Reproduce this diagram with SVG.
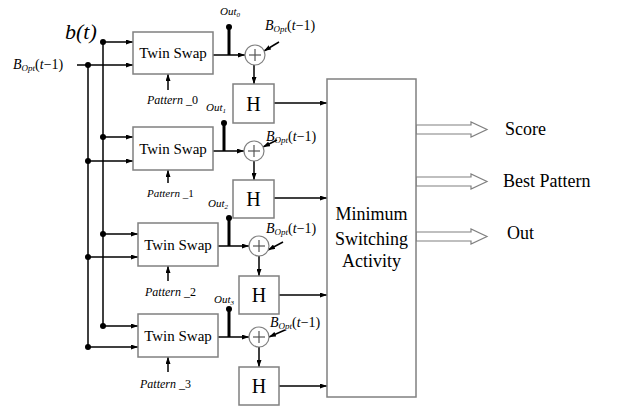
<svg xmlns="http://www.w3.org/2000/svg" width="618" height="414" viewBox="0 0 618 414">
<defs>
<marker id="ah" viewBox="0 0 7 5" refX="7" refY="2.5" markerWidth="7" markerHeight="5" markerUnits="userSpaceOnUse" orient="auto">
<path d="M0,0 L7,2.5 L0,5 z" fill="#000"/>
</marker>
<style>
.ln{stroke:#000;stroke-width:1.5;fill:none}
.ar{stroke:#000;stroke-width:1.5;fill:none;marker-end:url(#ah)}
.stem{stroke:#000;stroke-width:3;fill:none}
.dot{fill:#000}
.box{fill:#fff;stroke:#808080;stroke-width:1.5}
.sum{fill:#fff;stroke:#808080;stroke-width:1.2}
.plus{stroke:#555;stroke-width:1.2}
.hollow{fill:#fff;stroke:#808080;stroke-width:1.2}
.t{font-family:"Liberation Serif","Times New Roman",serif;fill:#000}
.it{font-family:"Liberation Serif","Times New Roman",serif;font-style:italic;fill:#000}
.up{font-style:normal}
</style>
</defs>
<rect width="618" height="414" fill="#fff"/>

<g id="connectors">
<line class="ln" x1="103" y1="42" x2="103" y2="326"/>
<line class="ln" x1="88" y1="65" x2="88" y2="347"/>
<line class="ln" x1="77" y1="65" x2="88" y2="65"/>
<line class="ar" x1="103" y1="42" x2="133" y2="42"/>
<line class="ar" x1="88" y1="65" x2="133" y2="65"/>
<line class="ar" x1="103" y1="137" x2="133" y2="137"/>
<line class="ar" x1="88" y1="161" x2="133" y2="161"/>
<line class="ar" x1="103" y1="234" x2="138" y2="234"/>
<line class="ar" x1="88" y1="257" x2="138" y2="257"/>
<line class="ar" x1="103" y1="326" x2="138" y2="326"/>
<line class="ar" x1="88" y1="347" x2="138" y2="347"/>
<circle class="dot" cx="103" cy="42" r="3"/>
<circle class="dot" cx="88" cy="65" r="3"/>
<circle class="dot" cx="103" cy="137" r="3"/>
<circle class="dot" cx="88" cy="161" r="3"/>
<circle class="dot" cx="103" cy="234" r="3"/>
<circle class="dot" cx="88" cy="257" r="3"/>
<circle class="dot" cx="103" cy="326" r="3"/>
<circle class="dot" cx="88" cy="347" r="3"/>
<line class="ar" x1="168" y1="90" x2="168" y2="74"/>
<line class="ar" x1="168" y1="183" x2="168" y2="170"/>
<line class="ar" x1="168" y1="281" x2="168" y2="266"/>
<line class="ar" x1="168" y1="372" x2="168" y2="357"/>
<line class="ar" x1="213" y1="55" x2="245" y2="55"/>
<line class="ar" x1="213" y1="151" x2="244" y2="151"/>
<line class="ar" x1="218" y1="246" x2="249" y2="246"/>
<line class="ar" x1="218" y1="337" x2="249" y2="337"/>
<line class="stem" x1="229" y1="27" x2="229" y2="55"/>
<line class="stem" x1="224" y1="123" x2="224" y2="151"/>
<line class="stem" x1="229" y1="218" x2="229" y2="246"/>
<line class="stem" x1="229" y1="309" x2="229" y2="337"/>
<circle class="dot" cx="229" cy="27" r="3"/>
<circle class="dot" cx="224" cy="123" r="3"/>
<circle class="dot" cx="229" cy="218" r="3"/>
<circle class="dot" cx="229" cy="309" r="3"/>
<line class="ar" x1="279" y1="42" x2="264" y2="51"/>
<line class="ar" x1="277" y1="140" x2="263" y2="147"/>
<line class="ar" x1="283" y1="242" x2="268" y2="250"/>
<line class="ar" x1="285" y1="330" x2="269" y2="337"/>
<line class="ar" x1="254" y1="65" x2="254" y2="84"/>
<line class="ar" x1="254" y1="161" x2="254" y2="180"/>
<line class="ar" x1="259" y1="256" x2="259" y2="276"/>
<line class="ar" x1="259" y1="347" x2="259" y2="367"/>
<line class="ar" x1="274" y1="103" x2="327" y2="103"/>
<line class="ar" x1="274" y1="198" x2="327" y2="198"/>
<line class="ar" x1="279" y1="295" x2="327" y2="295"/>
<line class="ar" x1="279" y1="386" x2="327" y2="386"/>
<path class="hollow" d="M416,125 L471,125 L471,122 L487,129.5 L471,137 L471,134 L416,134 z"/>
<path class="hollow" d="M416,177 L471,177 L471,174 L487,181.5 L471,189 L471,186 L416,186 z"/>
<path class="hollow" d="M416,232 L471,232 L471,229 L487,236.5 L471,244 L471,241 L416,241 z"/>
</g>

<g id="inputs">
<text class="it" x="65" y="39" font-size="22">b(t)</text>
<text class="it" x="13" y="69" font-size="14">B<tspan font-size="9" dy="2">Opt</tspan><tspan class="up" dy="-2">(</tspan>t<tspan class="up">−1)</tspan></text>
</g>

<g id="twin0">
<rect class="box" x="133" y="32" width="80" height="42"/>
<text class="t" x="173" y="58" font-size="15" text-anchor="middle">Twin Swap</text>
<text class="it" x="147" y="104" font-size="12">Pattern <tspan class="up">_0</tspan></text>
</g>
<g id="twin1">
<rect class="box" x="133" y="127" width="80" height="43"/>
<text class="t" x="173" y="154" font-size="15" text-anchor="middle">Twin Swap</text>
<text class="it" x="147" y="197" font-size="11" fill="#333">Pattern <tspan class="up">_1</tspan></text>
</g>
<g id="twin2">
<rect class="box" x="138" y="223" width="80" height="43"/>
<text class="t" x="178" y="250" font-size="15" text-anchor="middle">Twin Swap</text>
<text class="it" x="145" y="296" font-size="12">Pattern <tspan class="up">_2</tspan></text>
</g>
<g id="twin3">
<rect class="box" x="138" y="314" width="80" height="43"/>
<text class="t" x="178" y="341" font-size="15" text-anchor="middle">Twin Swap</text>
<text class="it" x="140" y="388" font-size="12">Pattern <tspan class="up">_3</tspan></text>
</g>

<g id="outlabels">
<text class="it" x="220" y="15" font-size="11">Out<tspan font-size="7" dy="2">0</tspan></text>
<text class="it" x="206" y="111" font-size="11">Out<tspan font-size="7" dy="2">1</tspan></text>
<text class="it" x="208" y="207" font-size="11">Out<tspan font-size="7" dy="2">2</tspan></text>
<text class="it" x="214" y="303" font-size="11">Out<tspan font-size="7" dy="2">3</tspan></text>
</g>

<g id="adder0">
<circle class="sum" cx="255" cy="55" r="10"/>
<line class="plus" x1="249" y1="55" x2="261" y2="55"/><line class="plus" x1="255" y1="49" x2="255" y2="61"/>
<text class="it" x="265" y="30" font-size="14">B<tspan font-size="9" dy="2">Opt</tspan><tspan class="up" dy="-2">(</tspan>t<tspan class="up">−1)</tspan></text>
</g>
<g id="adder1">
<circle class="sum" cx="254" cy="151" r="10"/>
<line class="plus" x1="248" y1="151" x2="260" y2="151"/><line class="plus" x1="254" y1="145" x2="254" y2="157"/>
<text class="it" x="266" y="141" font-size="14">B<tspan font-size="9" dy="2">Opt</tspan><tspan class="up" dy="-2">(</tspan>t<tspan class="up">−1)</tspan></text>
</g>
<g id="adder2">
<circle class="sum" cx="259" cy="246" r="10"/>
<line class="plus" x1="253" y1="246" x2="265" y2="246"/><line class="plus" x1="259" y1="240" x2="259" y2="252"/>
<text class="it" x="266" y="233" font-size="14">B<tspan font-size="9" dy="2">Opt</tspan><tspan class="up" dy="-2">(</tspan>t<tspan class="up">−1)</tspan></text>
</g>
<g id="adder3">
<circle class="sum" cx="259" cy="337" r="10"/>
<line class="plus" x1="253" y1="337" x2="265" y2="337"/><line class="plus" x1="259" y1="331" x2="259" y2="343"/>
<text class="it" x="270" y="327" font-size="14">B<tspan font-size="9" dy="2">Opt</tspan><tspan class="up" dy="-2">(</tspan>t<tspan class="up">−1)</tspan></text>
</g>

<g id="h0">
<rect class="box" x="233" y="84" width="41" height="39"/>
<text class="t" x="253.5" y="111" font-size="20" text-anchor="middle">H</text>
</g>
<g id="h1">
<rect class="box" x="233" y="180" width="41" height="38"/>
<text class="t" x="253.5" y="206" font-size="20" text-anchor="middle">H</text>
</g>
<g id="h2">
<rect class="box" x="239" y="276" width="40" height="38"/>
<text class="t" x="259" y="302" font-size="20" text-anchor="middle">H</text>
</g>
<g id="h3">
<rect class="box" x="239" y="367" width="40" height="38"/>
<text class="t" x="259" y="393" font-size="20" text-anchor="middle">H</text>
</g>

<g id="msa">
<rect class="box" x="327" y="79" width="89" height="318"/>
<text class="t" x="371.5" y="220" font-size="18" text-anchor="middle">Minimum</text>
<text class="t" x="371.5" y="245" font-size="18" text-anchor="middle">Switching</text>
<text class="t" x="371.5" y="267" font-size="18" text-anchor="middle">Activity</text>
</g>

<g id="outputs">
<text class="t" x="505" y="135" font-size="18">Score</text>
<text class="t" x="503" y="187" font-size="18">Best Pattern</text>
<text class="t" x="507" y="239" font-size="18">Out</text>
</g>
</svg>
